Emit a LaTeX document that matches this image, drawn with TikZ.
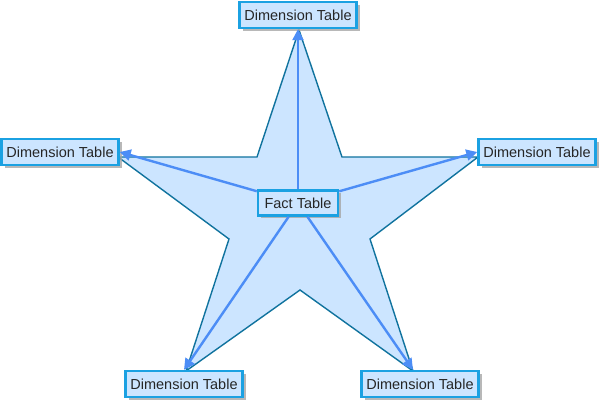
\documentclass[tikz,border=0pt]{standalone}
\usepackage{fontspec}
\setmainfont{Liberation Sans}
\usetikzlibrary{arrows.meta, shadows}

\definecolor{starfill}{HTML}{CCE5FF}
\definecolor{starline}{HTML}{10739E}
\definecolor{boxline}{HTML}{1BA1E2}
\definecolor{boxfill}{HTML}{CCE5FF}
\definecolor{linkblue}{HTML}{4C8DF6}

\tikzset{
  tablebox/.style={draw=boxline, line width=2.4pt, fill=boxfill, inner sep=0pt,
    minimum height=26pt, text=black!85, font=\fontsize{14.5}{16}\selectfont,
    drop shadow={shadow xshift=3pt, shadow yshift=-3pt, fill=black!35, opacity=0.8}},
  dimbox/.style={tablebox, minimum width=117pt},
  factbox/.style={tablebox, minimum width=80pt, minimum height=25pt},
  link/.style={draw=linkblue, line width=2.4pt, -{Triangle[length=11pt,width=11pt]}}
}

\begin{document}
\begin{tikzpicture}[x=1pt, y=-1pt]
    \useasboundingbox (0,0) rectangle (600,403);

    % Star behind everything
    \draw[starline, fill=starfill, line width=1.4pt, line join=miter]
        (299,30) -- (342,157) -- (478,157) -- (370,239) -- (413,371)
        -- (300,290) -- (186,371) -- (229,239) -- (118,157) -- (257,157) -- cycle;

    % Tables
    \node[factbox] (fact) at (298,203) {Fact Table};
    \node[dimbox] (dimtop) at (298,15) {Dimension Table};
    \node[dimbox] (dimleft) at (60,152) {Dimension Table};
    \node[dimbox] (dimright) at (537,152) {Dimension Table};
    \node[dimbox] (dimbl) at (184,384) {Dimension Table};
    \node[dimbox] (dimbr) at (420,384) {Dimension Table};

    % Links from fact to dimensions
    \draw[link] (fact.north) -- (dimtop.south);
    \draw[link] (fact) -- (dimleft.east);
    \draw[link] (fact) -- (dimright.west);
    \draw[link] (fact) -- (dimbl.north);
    \draw[link] (fact) -- ([xshift=-7pt]dimbr.north);
\end{tikzpicture}
\end{document}
